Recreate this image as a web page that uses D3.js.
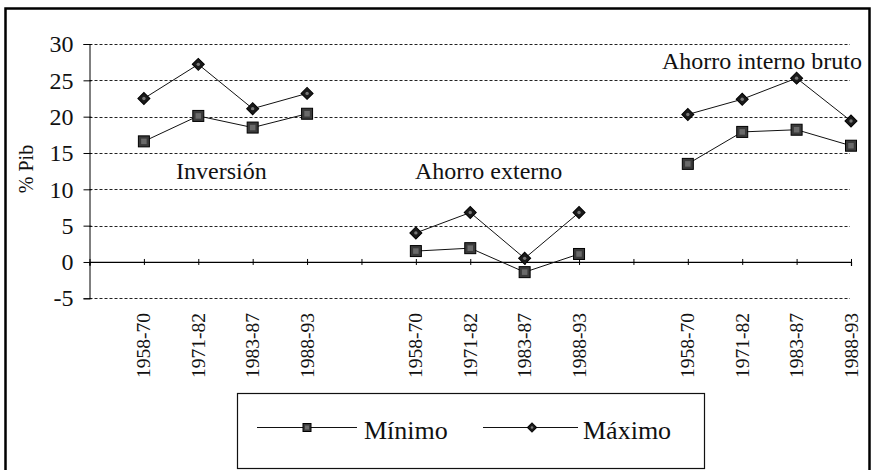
<!DOCTYPE html>
<html>
<head>
<meta charset="utf-8">
<script src="https://cdn.jsdelivr.net/npm/d3@7"></script>
<style>
  html, body { margin: 0; padding: 0; background: #fff; }
  svg { display: block; }
</style>
</head>
<body>
<script>
// ---------- data ----------
const groups = ["Inversión", "Ahorro externo", "Ahorro interno bruto"];
const periods = ["1958-70", "1971-82", "1983-87", "1988-93"];
const minInversion = [16.6, 20.1, 18.5, 20.4];
const maxInversion = [22.5, 27.2, 21.1, 23.2];
const minExterno = [1.5, 1.9, -1.4, 1.1];
const maxExterno = [4.0, 6.8, 0.5, 6.8];
const minInterno = [13.5, 17.9, 18.2, 16.0];
const maxInterno = [20.3, 22.4, 25.3, 19.4];
const yTicks = [-5, 0, 5, 10, 15, 20, 25, 30];
const seriesNames = ["Mínimo", "Máximo"];
const yLabel = "% Pib";

const minSeries = [minInversion, minExterno, minInterno];
const maxSeries = [maxInversion, maxExterno, maxInterno];

const FONT = '"Liberation Serif", "Times New Roman", "DejaVu Serif", serif';

// ---------- layout ----------
const W = 872, H = 470;
const svg = d3.select("body").append("svg").attr("width", W).attr("height", H);

// slots: blank, 4 periods, blank, 4 periods, blank, 4 periods
const slots = [];
groups.forEach((g, gi) => {
  slots.push({ key: "gap" + gi, label: "" });
  periods.forEach(p => slots.push({ key: g + "|" + p, label: p }));
});

const x = d3.scalePoint().domain(slots.map(s => s.key)).range([89.5, 851]);
const y = d3.scaleLinear().domain([-5, 30]).range([298.3, 44]);

// outer frame
svg.append("rect").attr("x", 5.5).attr("y", 8.5).attr("width", 864).attr("height", 480)
  .attr("fill", "none").attr("stroke", "#000").attr("stroke-width", 2.5);

// gridlines (dashed), skip 0
svg.append("g").selectAll("line").data(yTicks.filter(v => v !== 0)).join("line")
  .attr("x1", 89.5).attr("x2", 850)
  .attr("y1", d => Math.round(y(d)) + 0.5).attr("y2", d => Math.round(y(d)) + 0.5)
  .attr("stroke", "#222").attr("stroke-width", 1).attr("stroke-dasharray", "3,2");

// y axis
const yAxis = d3.axisLeft(y).tickValues(yTicks).tickSize(6).tickPadding(10).tickFormat(d => String(d));
const gy = svg.append("g").attr("transform", "translate(89.5,0)").call(yAxis);
gy.attr("font-family", null).attr("font-size", null);
gy.select(".domain").attr("stroke", "#000").attr("stroke-width", 1);
gy.selectAll(".tick line").attr("stroke", "#000").attr("x2", -6).attr("x1", 2);
gy.selectAll(".tick text").style("font-family", FONT).style("font-size", "24px").attr("fill", "#111");

// x axis at zero
const xAxis = d3.axisBottom(x).tickSize(4).tickFormat(k => slots.find(s => s.key === k).label);
const gx = svg.append("g").attr("transform", `translate(0,${y(0)})`).call(xAxis);
gx.select(".domain").attr("stroke", "#000").attr("stroke-width", 1.2);
gx.selectAll(".tick line").attr("stroke", "#000").attr("y1", -3).attr("y2", 3);
gx.selectAll(".tick text").remove();

// x tick labels, rotated, below plot
svg.append("g").selectAll("text").data(slots.filter(s => s.label)).join("text")
  .attr("transform", d => `translate(${x(d.key) + 6.5},313) rotate(-90)`)
  .attr("text-anchor", "end")
  .style("font-family", FONT).style("font-size", "19.5px").attr("fill", "#111")
  .text(d => d.label);

// y label
svg.append("text").attr("transform", "translate(33,169) rotate(-90)")
  .attr("text-anchor", "middle").style("font-family", FONT).style("font-size", "20px")
  .attr("fill", "#111").text(yLabel);

// lines & markers
const line = d3.line().x(d => x(d.key)).y(d => y(d.v));
function build(arr, gi) { return periods.map((p, i) => ({ key: groups[gi] + "|" + p, v: arr[i] })); }

const sq = 11, dm = 8.5;
function drawSquare(sel, s) {
  sel.append("rect").attr("x", -s / 2).attr("y", -s / 2).attr("width", s).attr("height", s)
    .attr("fill", "#3a3a3a").attr("stroke", "#000").attr("stroke-width", 1);
  sel.append("rect").attr("x", -s / 4).attr("y", -s / 4).attr("width", s / 2).attr("height", s / 2)
    .attr("fill", "#6a6a6a");
}
function drawDiamond(sel, s) {
  sel.append("rect").attr("x", -s / 2).attr("y", -s / 2).attr("width", s).attr("height", s)
    .attr("transform", "rotate(45)").attr("fill", "#1a1a1a").attr("stroke", "#000").attr("stroke-width", 1);
  sel.append("circle").attr("r", s / 5).attr("fill", "#777");
}

groups.forEach((g, gi) => {
  const dMin = build(minSeries[gi], gi);
  const dMax = build(maxSeries[gi], gi);
  svg.append("path").datum(dMax).attr("d", line).attr("fill", "none").attr("stroke", "#111").attr("stroke-width", 1);
  svg.append("path").datum(dMin).attr("d", line).attr("fill", "none").attr("stroke", "#111").attr("stroke-width", 1);
  svg.append("g").selectAll("g").data(dMax).join("g")
    .attr("transform", d => `translate(${x(d.key)},${y(d.v)})`).each(function () { drawDiamond(d3.select(this), dm); });
  svg.append("g").selectAll("g").data(dMin).join("g")
    .attr("transform", d => `translate(${x(d.key)},${y(d.v)})`).each(function () { drawSquare(d3.select(this), sq); });
});

// group annotations
function label(xp, yp, t, size) {
  return svg.append("text").attr("x", xp).attr("y", yp)
    .style("font-family", FONT).style("font-size", size + "px").attr("fill", "#111").text(t);
}
label(176, 179, groups[0], 24);
label(415, 179, groups[1], 24);
label(662, 69, groups[2], 24);

// legend
const lg = svg.append("g");
lg.append("rect").attr("x", 237.5).attr("y", 393.5).attr("width", 467).attr("height", 75)
  .attr("fill", "#fff").attr("stroke", "#111").attr("stroke-width", 1.2);
const legendItems = [
  { name: seriesNames[0], x1: 257, x2: 357, mx: 307, draw: s => drawSquare(s, 8), tx: 364 },
  { name: seriesNames[1], x1: 483, x2: 578, mx: 532, draw: s => drawDiamond(s, 6.5), tx: 583 }
];
legendItems.forEach(it => {
  lg.append("line").attr("x1", it.x1).attr("x2", it.x2).attr("y1", 427.5).attr("y2", 427.5)
    .attr("stroke", "#111").attr("stroke-width", 1);
  const m = lg.append("g").attr("transform", `translate(${it.mx},427.5)`);
  it.draw(m);
  lg.append("text").attr("x", it.tx).attr("y", 439)
    .style("font-family", FONT).style("font-size", "26px").attr("fill", "#111").text(it.name);
});
</script>
</body>
</html>
